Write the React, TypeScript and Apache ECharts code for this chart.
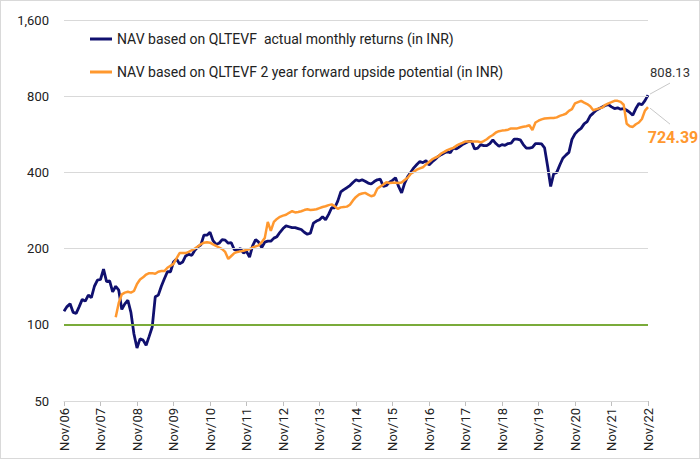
import React, { useEffect, useRef } from "react";
import * as echarts from "echarts";

const MONTHS = ["Jan", "Feb", "Mar", "Apr", "May", "Jun", "Jul", "Aug", "Sep", "Oct", "Nov", "Dec"];
// Monthly categories Nov/06 .. Nov/22
const categories: string[] = [];
for (let i = 0; i <= 192; i++) {
  const mi = (10 + i) % 12;
  const yr = 6 + Math.floor((10 + i) / 12);
  categories.push(MONTHS[mi] + "/" + String(yr).padStart(2, "0"));
}

const yTicks = [50, 100, 200, 400, 800, 1600];

const navActual = [
  113, 118, 121, 112, 111, 118, 126, 124, 131, 128, 142, 150, 151, 166, 148, 149, 135, 142, 137, 115,
  121, 125, 112, 92, 81, 88, 87, 83, 90, 98, 129, 131, 142, 152, 162, 162, 177, 182, 174, 177,
  187, 190, 188, 197, 203, 207, 226, 226, 232, 215, 208, 210, 217, 216, 210, 211, 198, 197, 200, 192,
  195, 185, 205, 217, 212, 202, 212, 214, 214, 220, 223, 232, 240, 246, 244, 242, 242, 240, 238, 232,
  228, 230, 252, 257, 260, 267, 260, 273, 290, 290, 308, 335, 342, 348, 355, 365, 374, 370, 374, 369,
  363, 360, 368, 374, 376, 352, 355, 366, 372, 381, 352, 332, 363, 385, 400, 417, 430, 442, 437, 445,
  428, 440, 450, 462, 470, 477, 484, 478, 499, 495, 505, 515, 523, 530, 530, 495, 499, 515, 510, 510,
  520, 538, 520, 507, 515, 512, 520, 522, 541, 541, 538, 515, 499, 499, 502, 520, 520, 518, 500, 423,
  352, 395, 400, 428, 455, 468, 480, 540, 568, 585, 597, 622, 635, 669, 686, 704, 715, 726, 735, 741,
  726, 715, 720, 711, 715, 704, 690, 673, 715, 748, 740, 768, 808.13,
];

const navUpside: (number | null)[] = [
  null, null, null, null, null, null, null, null, null, null, null, null, null, null, null, null, null, 107, 122, 132,
  134, 135, 134, 136, 145, 151, 154, 158, 160, 160, 159, 162, 163, 163, 168, 171, 174, 183, 192, 192,
  192, 194, 197, 200, 204, 208, 211, 212, 211, 208, 205, 202, 199, 194, 182, 187, 192, 194, 195, 196,
  198, 199, 202, 204, 206, 212, 220, 255, 235, 255, 262, 267, 270, 272, 277, 281, 278, 279, 281, 284,
  286, 284, 285, 286, 289, 292, 294, 297, 299, 294, 287, 291, 292, 293, 298, 310, 320, 327, 330, 332,
  327, 322, 325, 345, 352, 358, 366, 363, 364, 364, 363, 365, 373, 381, 395, 402, 410, 415, 419, 430,
  440, 450, 457, 463, 475, 482, 490, 495, 500, 510, 517, 523, 530, 530, 530, 530, 530, 526, 532, 541,
  553, 562, 575, 582, 585, 587, 590, 597, 597, 597, 602, 606, 609, 614, 588, 630, 640, 648, 653, 655,
  656, 656, 660, 669, 675, 682, 700, 711, 749, 758, 767, 755, 745, 730, 704, 711, 716, 722, 740, 750,
  758, 767, 767, 760, 740, 622, 609, 605, 620, 630, 650, 702, 724.39,
];

const baseline = 100;
const seriesNames = [
  "NAV based on QLTEVF  actual monthly returns (in INR)",
  "NAV based on QLTEVF 2 year forward upside potential (in INR)",
];

const NAVY = "#10106f";
const ORANGE = "#ff982f";
const GREEN = "#7aab3a";
const GRID = "#d9d9d9";
const FONT = "Roboto";

export default function App() {
  const ref = useRef<HTMLDivElement>(null);
  useEffect(() => {
    document.body.style.margin = "0";
    if (!ref.current) return;
    const chart = echarts.init(ref.current, null, { renderer: "svg" });
    const yearTick = (idx: number) => idx % 12 === 0;
    const gridLines = yTicks.map((v) => ({
      yAxis: v,
      lineStyle: {
        color: v === baseline ? GREEN : GRID,
        width: v === baseline ? 2 : 1,
        type: "solid",
      },
      label: {
        show: true,
        position: "start",
        distance: 15,
        formatter: v.toLocaleString("en-US"),
        fontFamily: FONT,
        fontSize: 13,
        color: "#222",
      },
    }));
    chart.setOption({
      animation: false,
      textStyle: { fontFamily: FONT },
      grid: { left: 63, right: 51, top: 19, bottom: 57 },
      legend: {
        orient: "vertical",
        left: 84,
        top: 26,
        itemGap: 19,
        itemWidth: 22,
        itemHeight: 3,
        icon: "rect",
        textStyle: { fontFamily: FONT, fontSize: 14, color: "#222" },
        data: seriesNames,
      },
      xAxis: {
        type: "category",
        data: categories,
        boundaryGap: false,
        axisLine: { lineStyle: { color: GRID } },
        axisTick: { interval: (i: number) => yearTick(i), length: 5, lineStyle: { color: "#bfbfbf" } },
        axisLabel: {
          interval: (i: number) => yearTick(i),
          rotate: 90,
          margin: 7,
          fontFamily: FONT,
          fontSize: 13,
          color: "#222",
        },
      },
      yAxis: {
        type: "log",
        logBase: 2,
        min: yTicks[0],
        max: yTicks[yTicks.length - 1],
        axisLine: { show: false },
        axisTick: { show: false },
        splitLine: { show: false },
        axisLabel: { show: false },
      },
      series: [
        {
          name: "grid",
          type: "line",
          data: [],
          z: 1,
          markLine: {
            silent: true,
            symbol: "none",
            data: gridLines,
          },
        },
        {
          name: seriesNames[0],
          type: "line",
          data: navActual,
          showSymbol: false,
          symbol: "none",
          lineStyle: { color: NAVY, width: 2.8 },
          itemStyle: { color: NAVY },
          z: 3,
        },
        {
          name: seriesNames[1],
          type: "line",
          data: navUpside,
          showSymbol: false,
          symbol: "none",
          lineStyle: { color: ORANGE, width: 2.5 },
          itemStyle: { color: ORANGE },
          z: 4,
        },
      ],
    });

    const last = navActual.length - 1;
    const pA = chart.convertToPixel({ gridIndex: 0 }, [last, navActual[last]]) as number[];
    const pU = chart.convertToPixel({ gridIndex: 0 }, [last, navUpside[last] as number]) as number[];
    chart.setOption({
      graphic: [
        {
          type: "line",
          shape: { x1: pA[0] + 2, y1: pA[1] - 1, x2: pA[0] + 22, y2: pA[1] - 12 },
          style: { stroke: "#c8c8c8", lineWidth: 1 },
        },
        {
          type: "text",
          x: pA[0] + 22,
          y: pA[1] - 23,
          style: {
            text: String(navActual[last]),
            fill: "#333",
            font: `13px ${FONT}`,
            align: "center",
            verticalAlign: "middle",
          },
        },
        {
          type: "line",
          shape: { x1: pU[0] + 2, y1: pU[1] + 1, x2: pU[0] + 22, y2: pU[1] + 17 },
          style: { stroke: "#c8c8c8", lineWidth: 1 },
        },
        {
          type: "text",
          x: pU[0] + 25,
          y: pU[1] + 30,
          style: {
            text: String(navUpside[last]),
            fill: ORANGE,
            font: `bold 16px ${FONT}`,
            align: "center",
            verticalAlign: "middle",
          },
        },
      ],
    });
    return () => chart.dispose();
  }, []);
  return (
    <div
      ref={ref}
      style={{ width: 700, height: 459, boxSizing: "border-box", border: "1px solid #d9d9d9", background: "#fff" }}
    />
  );
}
